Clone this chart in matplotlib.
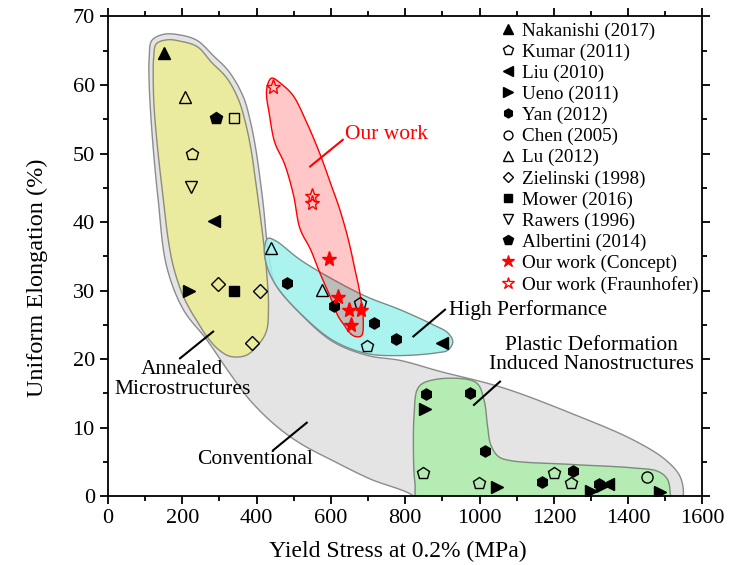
import numpy as np
import matplotlib
matplotlib.use("Agg")
import matplotlib.pyplot as plt
from matplotlib.ticker import MultipleLocator

plt.rcParams['font.family'] = ['Liberation Serif', 'DejaVu Serif']

# --- dati (Yield stress MPa, Uniform elongation %) ---
nakanishi_x = [151]
nakanishi_y = [64.7]
kumar_x = [225, 678, 698, 849, 999, 1201, 1245]
kumar_y = [50.0, 28.2, 21.9, 3.4, 1.9, 3.3, 1.9]
liu_x = [286, 898, 1345]
liu_y = [40.1, 22.3, 1.7]
ueno_x = [219, 853, 1046, 1300, 1330, 1485]
ueno_y = [30.0, 12.7, 1.3, 0.8, 1.5, 0.6]
yan_x = [483, 609, 716, 774, 856, 974, 1014, 1167, 1252, 1322]
yan_y = [31.1, 27.7, 25.2, 22.9, 14.9, 15.1, 6.6, 2.1, 3.6, 1.7]
chen_x = [1450]
chen_y = [2.8]
lu_x = [207, 440, 577]
lu_y = [58.2, 36.2, 30.1]
zielinski_x = [297, 409, 388]
zielinski_y = [30.9, 29.9, 22.4]
mower_x = [340]
mower_y = [30.0]
open_square_x = [340]
open_square_y = [55.2]
rawers_x = [223]
rawers_y = [45.1]
albertini_x = [290]
albertini_y = [55.2]
concept_x = [595, 618, 648, 681, 654]
concept_y = [34.6, 29.1, 27.1, 27.1, 24.9]
fraunhofer_x = [445, 548, 548]
fraunhofer_y = [59.7, 43.8, 42.8]

# --- contorni delle zone (punti di controllo, spline chiusa) ---
gray_x = [194, 240, 285, 325, 364, 384, 398, 410, 419, 427, 438, 450, 520, 606, 700, 786, 893,
          1063, 1250, 1413, 1500, 1540, 1548, 1535, 1200, 840, 822, 705, 611, 517,
          449, 382, 328, 266, 203, 158, 135, 120, 111, 111, 118, 150]
gray_y = [67.3, 66.5, 64.2, 62, 58.3, 54.5, 50.6, 46, 42, 37.5, 33.5, 31, 26.5, 22.5, 20.5, 19.8, 18.2,
          15.8, 12, 8.2, 5.3, 2.8, 0, -1.5, -1.5, -1.5, 0, 2.5, 5.0, 7.7,
          10.4, 14, 17.9, 22.8, 27.2, 33.5, 43.3, 52, 60, 64, 66.5, 67.4]
yellow_x = [194, 240, 279, 320, 351, 370, 385, 396, 404, 412, 420, 428, 432, 426, 400, 370, 328,
            295, 266, 240, 221, 200, 176, 162, 149, 135, 125, 122, 123, 130, 160]
yellow_y = [66.4, 65.6, 63.3, 61, 57.9, 54.5, 50.6, 46.5, 43.3, 40, 36.4, 32, 27.5, 24, 21.8, 20.5, 20.4,
            21.5, 23.3, 25.5, 27.2, 29.5, 33.5, 37.5, 43.3, 50, 56, 60, 64, 66, 66.6]
cyan_x = [430, 450, 517, 606, 696, 786, 875, 915, 928, 915, 884, 786, 696, 606, 517, 454, 428, 421]
cyan_y = [37.6, 37.3, 34.5, 31.6, 29.1, 27.2, 25, 23.8, 22.5, 21.3, 20.9, 20.5, 20.8, 22.7, 26.7,
          30.6, 33.5, 36]
green_x = [849, 920, 992, 1012, 1022, 1030, 1050, 1080, 1250, 1414, 1480, 1505, 1513, 1510,
           840, 826, 822, 824, 832]
green_y = [16.5, 17.2, 16.5, 14, 10, 7.5, 5.8, 5.2, 4.6, 4.1, 3.6, 2.5, 0.5, -1.5,
           -1.5, 2, 7, 12, 15.5]
red_x = [440, 470, 499, 535, 570, 600, 624, 647, 665, 678, 687, 682, 665, 651, 635, 620,
         595, 570, 545, 517, 499, 475, 449, 435, 427]
red_y = [61, 60, 58.4, 54.5, 50, 45.5, 41.8, 37.4, 33, 29.6, 25.7, 23.4, 23.3, 23.8, 25, 26.2,
         29.5, 32.6, 36, 39, 44, 48.5, 51.6, 55.5, 59.3]


def smooth_closed(xs, ys, n=25):
    # Catmull-Rom centripeta chiusa, calcolata in coordinate ~pixel
    sx, sy = 594.5 / 1600, 479.5 / 70
    P = np.column_stack([np.asarray(xs) * sx, np.asarray(ys) * sy])
    N = len(P)
    out = []
    for i in range(N):
        p0, p1, p2, p3 = P[(i - 1) % N], P[i], P[(i + 1) % N], P[(i + 2) % N]
        t0 = 0.0
        t1 = t0 + np.linalg.norm(p1 - p0) ** 0.5
        t2 = t1 + np.linalg.norm(p2 - p1) ** 0.5
        t3 = t2 + np.linalg.norm(p3 - p2) ** 0.5
        t = np.linspace(t1, t2, n, endpoint=False)[:, None]
        a1 = (t1 - t) / (t1 - t0) * p0 + (t - t0) / (t1 - t0) * p1
        a2 = (t2 - t) / (t2 - t1) * p1 + (t - t1) / (t2 - t1) * p2
        a3 = (t3 - t) / (t3 - t2) * p2 + (t - t2) / (t3 - t2) * p3
        b1 = (t2 - t) / (t2 - t0) * a1 + (t - t0) / (t2 - t0) * a2
        b2 = (t3 - t) / (t3 - t1) * a2 + (t - t1) / (t3 - t1) * a3
        out.append((t2 - t) / (t2 - t1) * b1 + (t - t1) / (t2 - t1) * b2)
    out = np.vstack(out)
    return out[:, 0] / sx, out[:, 1] / sy


fig = plt.figure(figsize=(7.31, 5.65), dpi=100)
ax = fig.add_axes([0.1477, 0.1221, 0.8133, 0.8487])

# zone colorate
xs, ys = smooth_closed(gray_x, gray_y)
ax.fill(xs, ys, facecolor='#e4e4e4', edgecolor='#8c8c8c', lw=1.0, zorder=1)
xs, ys = smooth_closed(yellow_x, yellow_y)
ax.fill(xs, ys, facecolor='#ebeba0', edgecolor='#8c8c7a', lw=1.0, zorder=2)
xs, ys = smooth_closed(green_x, green_y)
ax.fill(xs, ys, facecolor='#b4ecb4', edgecolor='#7a8c7a', lw=1.0, zorder=2)
xs, ys = smooth_closed(cyan_x, cyan_y)
ax.fill(xs, ys, facecolor=(0.62, 0.95, 0.93, 0.88), edgecolor='#7a8c8c', lw=1.0, zorder=3)
xs, ys = smooth_closed(red_x, red_y)
ax.fill(xs, ys, facecolor=(1, 0, 0, 0.22), edgecolor='red', lw=1.0, zorder=4)

# serie
k = 'black'
ax.plot(nakanishi_x, nakanishi_y, ls='none', marker='^', ms=9, mfc=k, mec=k, label='Nakanishi (2017)', zorder=6)
ax.plot(kumar_x, kumar_y, ls='none', marker='p', ms=9, mfc='none', mec=k, mew=1, label='Kumar (2011)', zorder=6)
ax.plot(liu_x, liu_y, ls='none', marker='<', ms=8.5, mfc=k, mec=k, label='Liu (2010)', zorder=6)
ax.plot(ueno_x, ueno_y, ls='none', marker='>', ms=8.5, mfc=k, mec=k, label='Ueno (2011)', zorder=6)
ax.plot(yan_x, yan_y, ls='none', marker='h', ms=8, mfc=k, mec=k, label='Yan (2012)', zorder=6)
ax.plot(chen_x, chen_y, ls='none', marker='o', ms=8, mfc='none', mec=k, mew=1, label='Chen (2005)', zorder=6)
ax.plot(lu_x, lu_y, ls='none', marker='^', ms=9, mfc='none', mec=k, mew=1, label='Lu (2012)', zorder=6)
ax.plot(zielinski_x, zielinski_y, ls='none', marker='D', ms=7, mfc='none', mec=k, mew=1, label='Zielinski (1998)', zorder=6)
ax.plot(mower_x, mower_y, ls='none', marker='s', ms=7, mfc=k, mec=k, label='Mower (2016)', zorder=6)
ax.plot(rawers_x, rawers_y, ls='none', marker='v', ms=9, mfc='none', mec=k, mew=1, label='Rawers (1996)', zorder=6)
ax.plot(albertini_x, albertini_y, ls='none', marker='p', ms=9, mfc=k, mec=k, label='Albertini (2014)', zorder=6)
ax.plot(concept_x, concept_y, ls='none', marker='*', ms=11, mfc='red', mec='red', label='Our work (Concept)', zorder=6)
ax.plot(fraunhofer_x, fraunhofer_y, ls='none', marker='*', ms=11, mfc='none', mec='red', mew=1, label='Our work (Fraunhofer)', zorder=6)
ax.plot(open_square_x, open_square_y, ls='none', marker='s', ms=7, mfc='none', mec=k, mew=1, zorder=6)

# etichette e linee guida
ax.plot([544, 632], [48.1, 52.0], color='red', lw=1.5, zorder=5)
ax.text(638, 52.8, 'Our work', color='red', fontsize=15.5, va='center', ha='left', zorder=7)
ax.plot([822, 907], [23.3, 27.2], color=k, lw=1.5, zorder=5)
ax.text(918, 27.2, 'High Performance', fontsize=15.5, va='center', ha='left', zorder=7)
ax.plot([985, 1055], [13.3, 16.7], color=k, lw=1.5, zorder=5)
ax.text(1302, 20.6, 'Plastic Deformation\nInduced Nanostructures', fontsize=15.5,
        va='center', ha='center', linespacing=1.05, zorder=7)
ax.plot([194, 283], [20.1, 24.0], color=k, lw=1.5, zorder=5)
ax.text(200, 17.0, 'Annealed\nMicrostructures', fontsize=15.5, va='center', ha='center',
        linespacing=1.05, zorder=7)
ax.plot([445, 535], [6.7, 10.7], color=k, lw=1.5, zorder=5)
ax.text(396, 5.3, 'Conventional', fontsize=15.5, va='center', ha='center', zorder=7)

ax.set_xlim(0, 1600)
ax.set_ylim(0, 70)
ax.xaxis.set_major_locator(MultipleLocator(200))
ax.xaxis.set_minor_locator(MultipleLocator(100))
ax.yaxis.set_major_locator(MultipleLocator(10))
ax.yaxis.set_minor_locator(MultipleLocator(5))
ax.tick_params(which='both', direction='out', top=True, right=True, width=1.3, labelsize=16)
ax.tick_params(which='major', length=6)
ax.tick_params(which='minor', length=3.5)
for s in ax.spines.values():
    s.set_linewidth(1.3)

ax.set_xlabel('Yield Stress at 0.2% (MPa)', fontsize=17)
ax.set_ylabel('Uniform Elongation (%)', fontsize=17.5)
ax.xaxis.set_label_coords(0.488, -0.094)
ax.yaxis.set_label_coords(-0.101, 0.456)

ax.legend(loc='upper left', bbox_to_anchor=(0.6616, 0.988), frameon=False, fontsize=13.8,
          borderpad=0, borderaxespad=0, handlelength=0.7, handletextpad=0.38,
          labelspacing=0.19, numpoints=1, markerscale=0.8)

fig.savefig('out.png', dpi=100)
